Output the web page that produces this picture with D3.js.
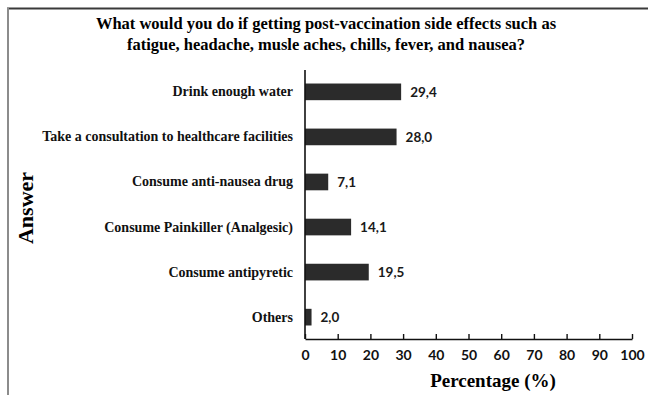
<!DOCTYPE html>
<html>
<head>
<meta charset="utf-8">
<script src="https://cdn.jsdelivr.net/npm/d3@7/dist/d3.min.js"></script>
<style>
  html, body { margin: 0; padding: 0; background: #fff; }
  svg { display: block; }
</style>
</head>
<body>
<svg id="chart" width="648" height="395"></svg>
<script>
// Answers to the survey question and their share of respondents (%)
const categories = [
  "Drink enough water",
  "Take a consultation to healthcare facilities",
  "Consume anti-nausea drug",
  "Consume Painkiller (Analgesic)",
  "Consume antipyretic",
  "Others"
];
const values = [29.4, 28.0, 7.1, 14.1, 19.5, 2.0];
const valueLabels = ["29,4", "28,0", "7,1", "14,1", "19,5", "2,0"];
const xTicks = [0, 10, 20, 30, 40, 50, 60, 70, 80, 90, 100];
const titleLines = [
  "What would you do if getting post-vaccination side effects such as",
  "fatigue, headache, musle aches, chills, fever, and nausea?"
];

const svg = d3.select("#chart");
const serif = "'Liberation Serif', 'Times New Roman', serif";
const sans = "Lato, 'Open Sans', sans-serif";

const plot = { left: 305, right: 632, top: 70, bottom: 339 };

// frame lines
svg.append("line").attr("x1", 7).attr("x2", 648).attr("y1", 8.5).attr("y2", 8.5)
  .attr("stroke", "#3a3a3a").attr("stroke-width", 2);
svg.append("line").attr("x1", 8).attr("x2", 8).attr("y1", 8).attr("y2", 395)
  .attr("stroke", "#8c8c8c").attr("stroke-width", 2);

const x = d3.scaleLinear().domain([0, 100]).range([plot.left, plot.right]);
const y = d3.scaleBand().domain(categories).range([plot.top, plot.bottom]).paddingInner(0.63).paddingOuter(0.3);

// title
svg.append("text")
  .attr("x", 326).attr("y", 29)
  .attr("text-anchor", "middle")
  .style("font-family", serif).style("font-weight", "bold").style("font-size", "16.5px")
  .selectAll("tspan").data(titleLines).join("tspan")
  .attr("x", 326).attr("dy", (d, i) => i === 0 ? 0 : 21)
  .text(d => d);

// bars
svg.append("g").selectAll("rect").data(values).join("rect")
  .attr("x", x(0))
  .attr("y", (d, i) => y(categories[i]))
  .attr("width", d => x(d) - x(0))
  .attr("height", y.bandwidth())
  .attr("fill", "#2b2b2b");

// value labels
svg.append("g").selectAll("text").data(values).join("text")
  .attr("x", d => x(d) + 9)
  .attr("y", (d, i) => y(categories[i]) + y.bandwidth() / 2)
  .attr("dy", "0.36em")
  .style("font-family", sans).style("font-weight", "bold").style("font-size", "13.5px")
  .attr("fill", "#1a1a1a")
  .text((d, i) => valueLabels[i]);

// y axis with category labels
const yAxis = svg.append("g")
  .attr("transform", `translate(${plot.left},0)`)
  .call(d3.axisLeft(y).tickSize(0).tickPadding(12));
yAxis.select(".domain").attr("d", `M0,${plot.top}V${plot.bottom}`).attr("stroke", "#111").attr("stroke-width", 1.6);
yAxis.selectAll("text")
  .style("font-family", serif).style("font-weight", "bold").style("font-size", "14px").attr("fill", "#111");

// x axis with inward ticks
const xAxis = svg.append("g")
  .attr("transform", `translate(0,${plot.bottom})`)
  .call(d3.axisBottom(x).tickValues(xTicks).tickSize(-5).tickSizeOuter(0).tickPadding(11));
xAxis.select(".domain").attr("stroke", "#111").attr("stroke-width", 1.6);
xAxis.selectAll(".tick line").attr("stroke", "#111").attr("stroke-width", 1.4);
xAxis.selectAll("text")
  .style("font-family", sans).style("font-weight", "bold").style("font-size", "14px").attr("fill", "#111");

// axis titles
svg.append("text")
  .attr("x", 493).attr("y", 387)
  .attr("text-anchor", "middle")
  .style("font-family", serif).style("font-weight", "bold").style("font-size", "19px")
  .text("Percentage (%)");

svg.append("text")
  .attr("transform", "translate(33,208) rotate(-90)")
  .attr("text-anchor", "middle")
  .style("font-family", serif).style("font-weight", "bold").style("font-size", "22px")
  .text("Answer");
</script>
</body>
</html>
